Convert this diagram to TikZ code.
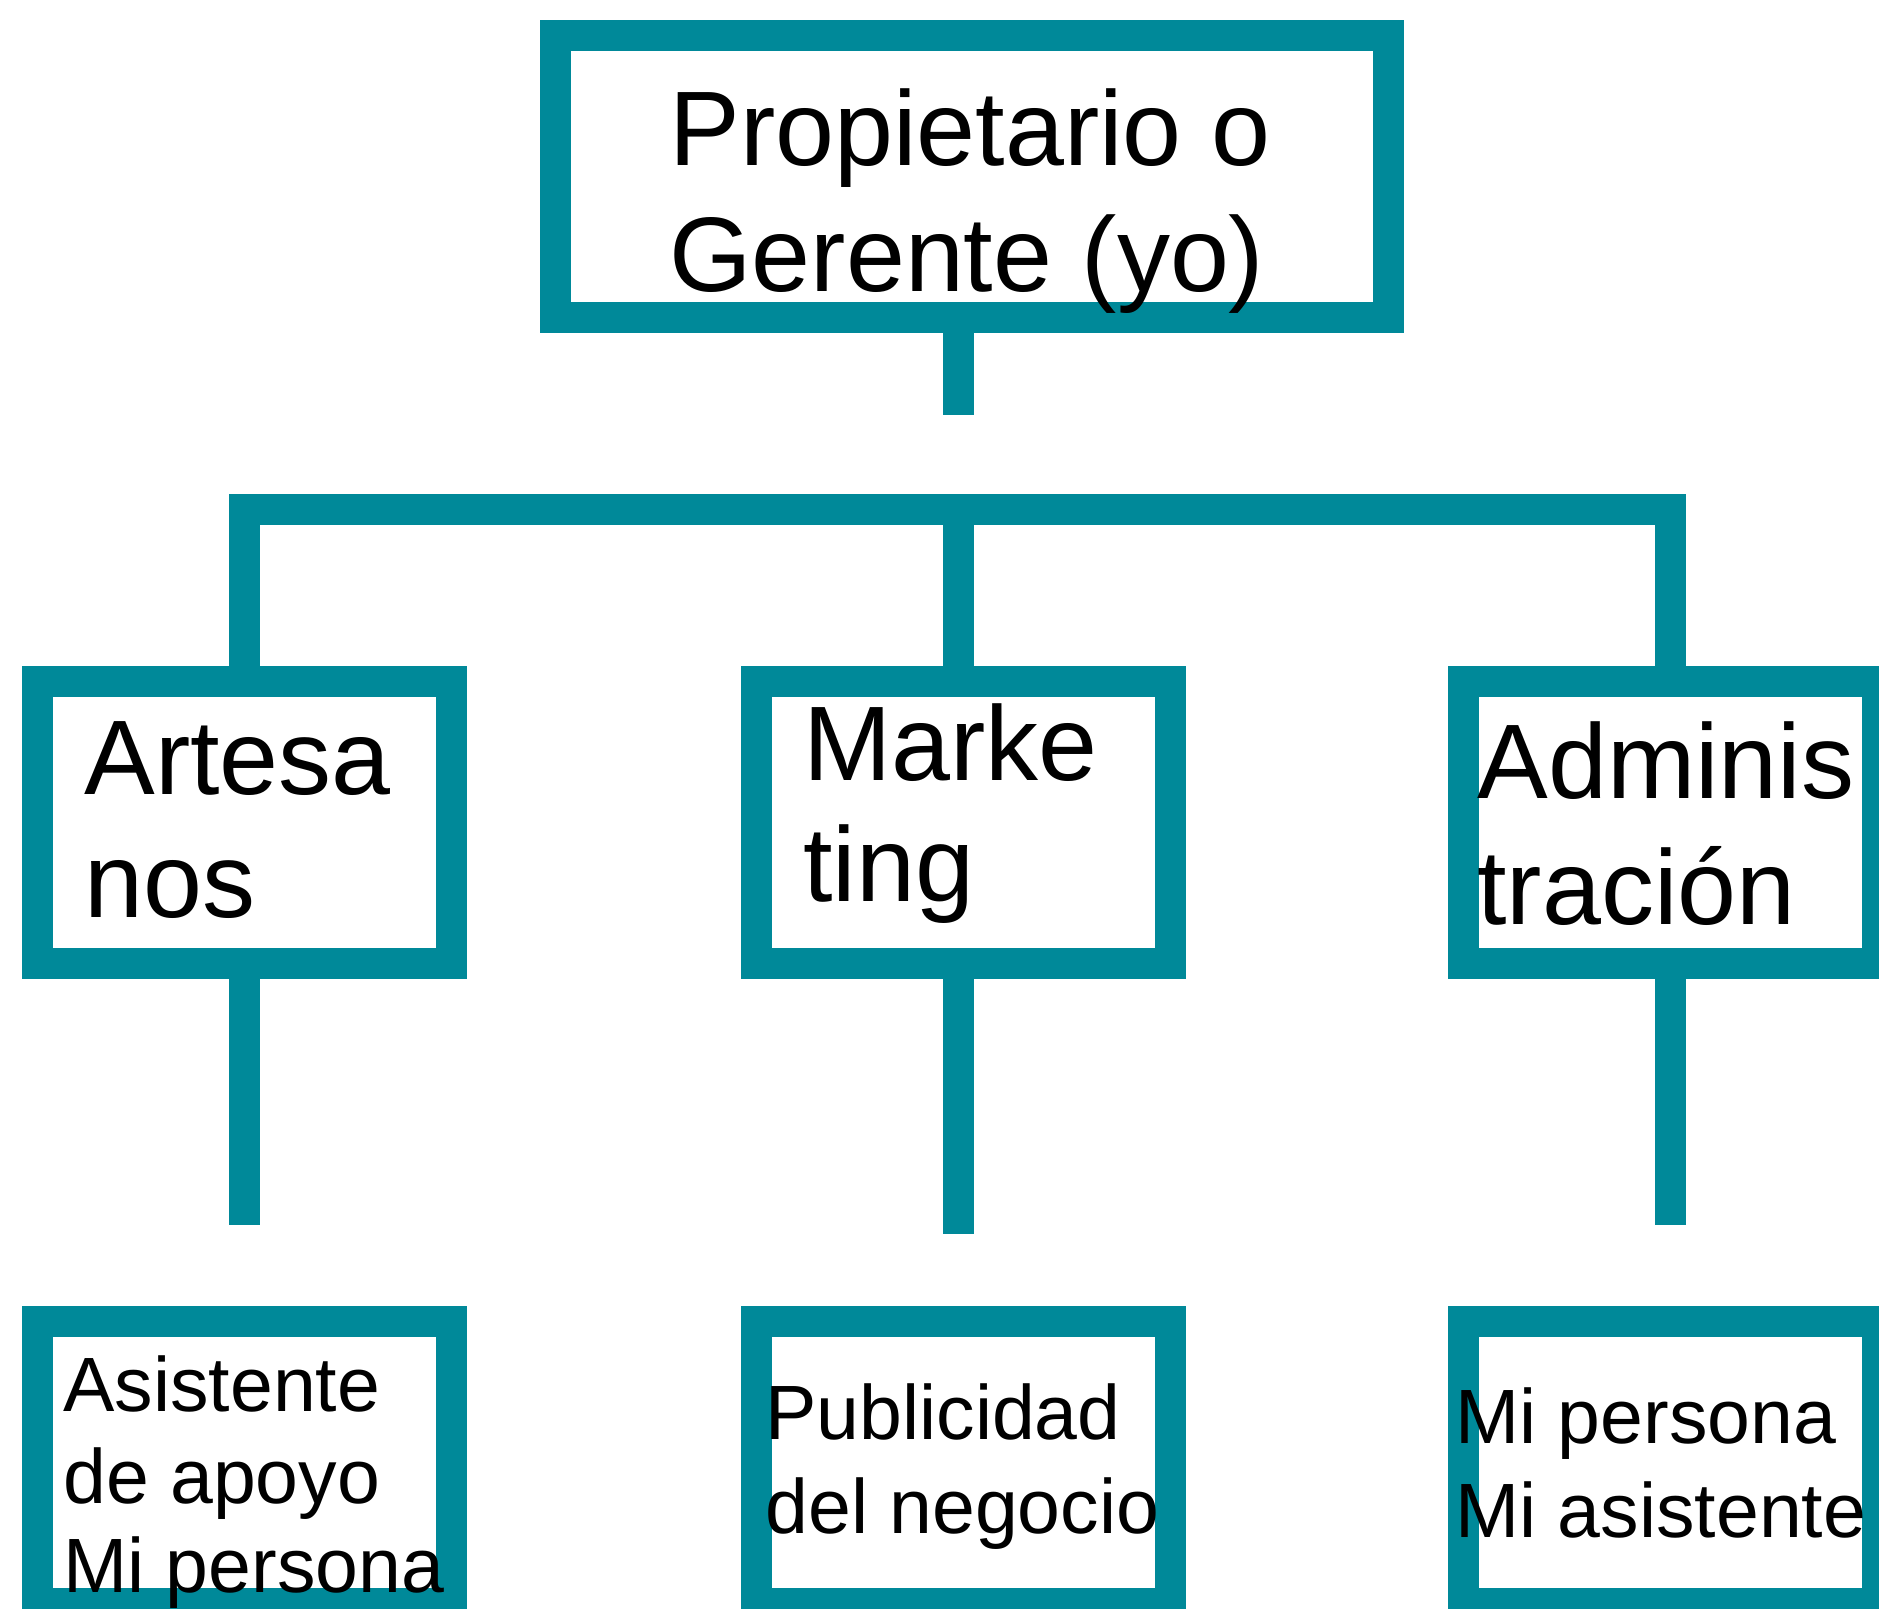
\documentclass[tikz,border=0pt]{standalone}
\usepackage{fontspec}
\setmainfont{Liberation Sans}
\definecolor{tealline}{RGB}{0,137,153}
\begin{document}
\begin{tikzpicture}[x=0.5pt,y=-0.5pt,
  orgbox/.style={draw=tealline, line width=15.5pt, fill=white, minimum width=207pt, minimum height=141pt, inner sep=0pt, anchor=center},
  conn/.style={draw=tealline, line width=15.5pt},
  bigtxt/.style={anchor=base west, inner sep=0pt, font=\fontsize{53}{60}\selectfont},
  smalltxt/.style={anchor=base west, inner sep=0pt, font=\fontsize{38.5}{44}\selectfont}]
\useasboundingbox (0,0) rectangle (1879,1608);
\fill[white] (0,0) rectangle (1879,1608);
\clip (0,0) rectangle (1879,1608);

% boxes
\node[orgbox, minimum width=416.5pt] (top) at (972,176.5) {};
\node[orgbox] (lbox) at (244.5,822.5) {};
\node[orgbox] (mbox) at (963.5,822.5) {};
\node[orgbox] (rbox) at (1670.5,822.5) {};
\node[orgbox] (lbot) at (244.5,1462.5) {};
\node[orgbox] (mbot) at (963.5,1462.5) {};
\node[orgbox] (rbot) at (1670.5,1462.5) {};

% connectors
\coordinate (stemend) at (958,415);
\coordinate (barmid) at (958,509.5);
\coordinate (lend) at (244.5,1225);
\coordinate (mend) at (958,1234);
\coordinate (rend) at (1670.5,1225);
\draw[conn] (top.south -| stemend) -- (stemend);
\draw[conn] (lbox.north) |- (barmid) -| (rbox.north);
\draw[conn] (barmid) -- (mbox.north -| barmid);
\draw[conn] (lbox.south) -- (lend);
\draw[conn] (mbox.south -| mend) -- (mend);
\draw[conn] (rbox.south) -- (rend);

% texts
\node[bigtxt] (t1a) at (669,165) {Propietario o};
\node[bigtxt] (t1b) at (669,291) {Gerente (yo)};
\node[bigtxt] (t2a) at (84,794) {Artesa};
\node[bigtxt] (t2b) at (84,917) {nos};
\node[bigtxt] (t3a) at (803,780) {Marke};
\node[bigtxt] (t3b) at (803,901) {ting};
\node[bigtxt] (t4a) at (1477,798) {Adminis};
\node[bigtxt] (t4b) at (1477,924) {tración};
\node[smalltxt] (t5a) at (63,1411) {Asistente};
\node[smalltxt] (t5b) at (63,1503) {de apoyo};
\node[smalltxt] (t5c) at (63,1592) {Mi persona};
\node[smalltxt] (t6a) at (765,1439) {Publicidad};
\node[smalltxt] (t6b) at (765,1533) {del negocio};
\node[smalltxt] (t7a) at (1455,1443) {Mi persona};
\node[smalltxt] (t7b) at (1455,1537) {Mi asistente};
\end{tikzpicture}
\end{document}
